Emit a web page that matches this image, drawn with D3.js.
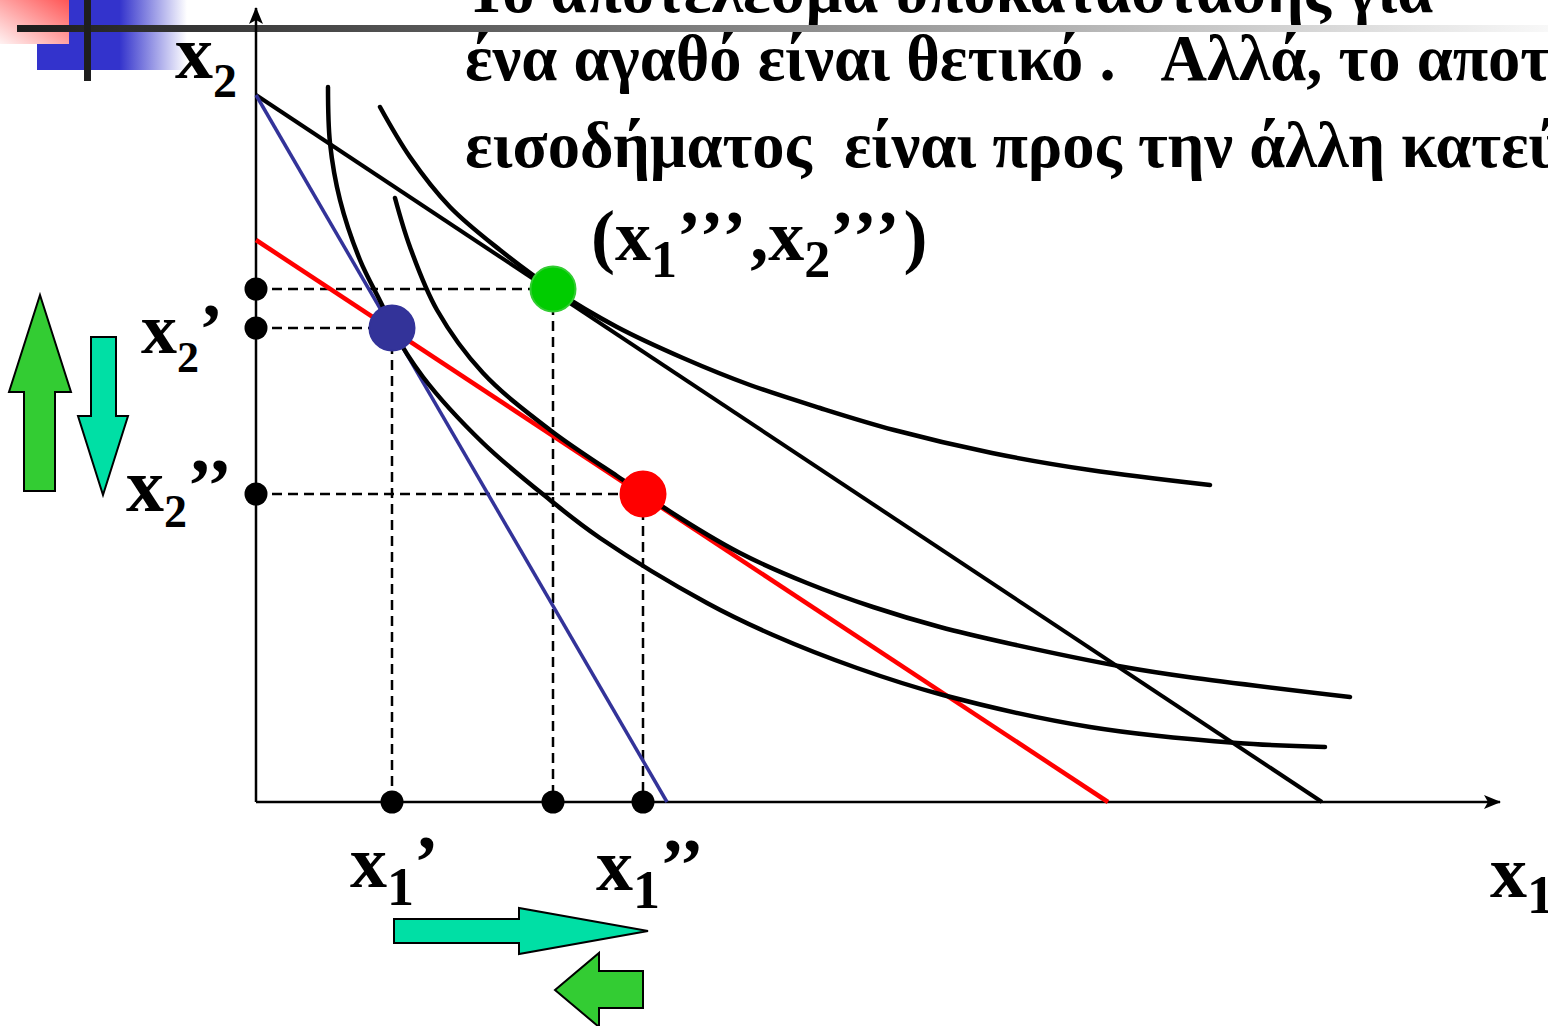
<!DOCTYPE html>
<html>
<head>
<meta charset="utf-8">
<script src="https://d3js.org/d3.v7.min.js"></script>
<style>
  html, body { margin: 0; padding: 0; background: #fff; overflow: hidden; }
  svg { display: block; }
  text { font-family: "Liberation Serif", "Times New Roman", serif; font-weight: bold; fill: #000; white-space: pre; }
</style>
</head>
<body>
<svg id="chart" width="1548" height="1026"></svg>
<script>
// indifference curves, points (x1, x2)
var curveInitial = [[0.72,7.15],[0.74,6.59],[0.84,6.02],[1.04,5.42],[1.27,4.95],[1.36,4.74],[1.67,4.25],[2.27,3.59],[2.94,3.02],[3.44,2.64],[4.51,1.99],[5.17,1.67],[6.01,1.34],[6.87,1.07],[8.34,0.75],[9.81,0.59],[10.69,0.55]];
var curveCompensated = [[1.39,6.04],[1.54,5.55],[1.81,4.92],[2.27,4.29],[2.94,3.72],[3.61,3.26],[3.87,3.09],[4.07,2.95],[4.84,2.49],[5.51,2.19],[6.17,1.95],[6.84,1.75],[7.51,1.59],[8.68,1.35],[9.32,1.25],[10.94,1.05]];
var curveFinal = [[1.24,6.95],[1.54,6.45],[1.94,5.95],[2.44,5.52],[2.97,5.13],[3.61,4.75],[4.27,4.44],[4.94,4.17],[5.64,3.94],[6.38,3.72],[7.36,3.49],[8.34,3.32],[9.54,3.17]];

// budget lines: intercepts on the two axes
var budgetInitial = [[0,7.07],[4.11,0]];
var budgetFinal = [[0,7.07],[10.66,0]];
var budgetCompensated = [[0,5.62],[8.52,0]];

// chosen bundles
var bundleNames = ["initial", "compensated", "final"];
var bundleX1 = [1.36, 3.87, 2.97];
var bundleX2 = [4.74, 3.08, 5.13];

var textLines = [
  "Το αποτέλεσμα υποκατάστασης για",
  "ένα αγαθό είναι θετικό .   Αλλά, το αποτέλεσμα",
  "εισοδήματος  είναι προς την άλλη κατεύθυνση"
];

var svg = d3.select("#chart");
var x = d3.scaleLinear().domain([0, 12.44]).range([256, 1500]);
var y = d3.scaleLinear().domain([0, 7.94]).range([802, 8]);

var defs = svg.append("defs");
defs.append("marker")
  .attr("id", "arrow")
  .attr("viewBox", "0 -8 18 16")
  .attr("markerUnits", "userSpaceOnUse")
  .attr("markerWidth", 18).attr("markerHeight", 16)
  .attr("refX", 16).attr("refY", 0)
  .attr("orient", "auto")
  .append("path").attr("d", "M0,-7L17,0L0,7L4,0Z").attr("fill", "#000");

var gBlue = defs.append("linearGradient").attr("id", "gBlue");
gBlue.append("stop").attr("offset", "0.55").attr("stop-color", "#3333cc");
gBlue.append("stop").attr("offset", "1").attr("stop-color", "#ffffff");
var gPink = defs.append("linearGradient").attr("id", "gPink")
  .attr("x1", 1).attr("y1", 0).attr("x2", 0).attr("y2", 1);
gPink.append("stop").attr("offset", "0").attr("stop-color", "#ff5555");
gPink.append("stop").attr("offset", "1").attr("stop-color", "#fff2f2");
var gBar = defs.append("linearGradient").attr("id", "gBar");
gBar.append("stop").attr("offset", "0").attr("stop-color", "#1c1c1c");
gBar.append("stop").attr("offset", "1").attr("stop-color", "#f8f8f8");

// heading text (first line runs off the top, as on the slide)
var baselines = [12, 80, 167];
svg.selectAll("text.head")
  .data(textLines)
  .enter().append("text")
  .attr("class", "head")
  .attr("x", 465)
  .attr("y", function(d, i) { return baselines[i]; })
  .attr("font-size", 64.5)
  .text(function(d) { return d; });

// slide decoration
svg.append("rect").attr("x", 37).attr("y", 0).attr("width", 150).attr("height", 70).attr("fill", "url(#gBlue)");
svg.append("rect").attr("x", 0).attr("y", 0).attr("width", 69).attr("height", 44).attr("fill", "url(#gPink)");
svg.append("rect").attr("x", 17).attr("y", 25).attr("width", 1531).attr("height", 7).attr("fill", "url(#gBar)");
svg.append("rect").attr("x", 84).attr("y", 0).attr("width", 7).attr("height", 81).attr("fill", "#1e1e1e");

// axes
svg.append("line")
  .attr("x1", x(0)).attr("y1", y(0)).attr("x2", x(12.44)).attr("y2", y(0))
  .attr("stroke", "#000").attr("stroke-width", 2.5).attr("marker-end", "url(#arrow)");
svg.append("line")
  .attr("x1", x(0)).attr("y1", y(0)).attr("x2", x(0)).attr("y2", y(7.94))
  .attr("stroke", "#000").attr("stroke-width", 2.5).attr("marker-end", "url(#arrow)");

// dashed guides
var guides = svg.append("g").attr("stroke", "#000").attr("stroke-width", 2.5).attr("stroke-dasharray", "10,6");
bundleNames.forEach(function(n, i) {
  guides.append("line").attr("x1", x(0)).attr("y1", y(bundleX2[i])).attr("x2", x(bundleX1[i])).attr("y2", y(bundleX2[i]));
  guides.append("line").attr("x1", x(bundleX1[i])).attr("y1", y(bundleX2[i])).attr("x2", x(bundleX1[i])).attr("y2", y(0));
});

var line = d3.line().x(function(d) { return x(d[0]); }).y(function(d) { return y(d[1]); });
var smooth = d3.line().x(function(d) { return x(d[0]); }).y(function(d) { return y(d[1]); }).curve(d3.curveCatmullRom.alpha(0.5));

svg.append("path").attr("d", line(budgetFinal)).attr("fill", "none").attr("stroke", "#000").attr("stroke-width", 4);
svg.append("path").attr("d", line(budgetInitial)).attr("fill", "none").attr("stroke", "#333399").attr("stroke-width", 3.5);
svg.append("path").attr("d", line(budgetCompensated)).attr("fill", "none").attr("stroke", "#ff0000").attr("stroke-width", 4.5);

[curveInitial, curveCompensated, curveFinal].forEach(function(c) {
  svg.append("path").attr("d", smooth(c)).attr("fill", "none")
    .attr("stroke", "#000").attr("stroke-width", 4.5).attr("stroke-linecap", "round");
});

// small dots on the axes
bundleNames.forEach(function(n, i) {
  svg.append("circle").attr("cx", x(0)).attr("cy", y(bundleX2[i])).attr("r", 11.5).attr("fill", "#000");
  svg.append("circle").attr("cx", x(bundleX1[i])).attr("cy", y(0)).attr("r", 11.5).attr("fill", "#000");
});

// bundles
var fills = { initial: "#333399", compensated: "#ff0000", final: "#00cc00" };
var strokes = { initial: "#333399", compensated: "#ff0000", final: "#33cc33" };
svg.selectAll("circle.bundle")
  .data(bundleNames)
  .enter().append("circle")
  .attr("class", "bundle")
  .attr("cx", function(d, i) { return x(bundleX1[i]); })
  .attr("cy", function(d, i) { return y(bundleX2[i]); })
  .attr("r", 22.5)
  .attr("fill", function(d) { return fills[d]; })
  .attr("stroke", function(d) { return strokes[d]; })
  .attr("stroke-width", 2);

// labels: parts of [text, isSubscript, letterSpacing]
function label(px, py, parts, big, small, drop) {
  var t = svg.append("text").attr("x", px).attr("y", py);
  var down = false;
  parts.forEach(function(p) {
    var s = t.append("tspan").attr("font-size", p[1] ? small : big).text(p[0]);
    if (p[2]) s.attr("letter-spacing", p[2]);
    if (p[1] && !down) { s.attr("dy", drop); down = true; }
    else if (!p[1] && down) { s.attr("dy", -drop); down = false; }
  });
}
label(x(0) - 81, 78, [["x"], ["2", 1]], 76, 48, 19);
label(x(0) - 115, y(bundleX2[0]) + 25, [["x"], ["2", 1], ["’"]], 72, 44, 19);
label(x(0) - 130, y(bundleX2[1]) + 17, [["x"], ["2", 1], ["’’"]], 76, 46, 16);
label(x(bundleX1[0]) - 42, 887, [["x"], ["1", 1], ["’"]], 74, 54, 18);
label(x(bundleX1[1]) - 47, 890, [["x"], ["1", 1], ["’’"]], 74, 54, 18);
label(1490, 897, [["x"], ["1", 1]], 74, 54, 16);
label(591, 260, [["("], ["x"], ["1", 1], ["’’’", 0, 4], [",x"], ["2", 1], ["’’’", 0, 4], [")"]], 72, 52, 17);

// direction arrows
var arrows = [
  { fill: "#33cc33", pts: [[40,295],[71,392],[55,392],[55,491],[24,491],[24,392],[9,392]] },
  { fill: "#00dfa5", pts: [[91,337],[116,337],[116,416],[128,416],[103,495],[78,416],[91,416]] },
  { fill: "#00dfa5", pts: [[394,919],[519,919],[519,908],[648,931],[519,954],[519,943],[394,943]] },
  { fill: "#33cc33", pts: [[555,990],[599,953],[599,971],[643,971],[643,1008],[599,1008],[599,1027]] }
];
svg.selectAll("polygon.dir")
  .data(arrows)
  .enter().append("polygon")
  .attr("class", "dir")
  .attr("points", function(d) { return d.pts.join(" "); })
  .attr("fill", function(d) { return d.fill; })
  .attr("stroke", "#000")
  .attr("stroke-width", 2);
</script>
</body>
</html>
